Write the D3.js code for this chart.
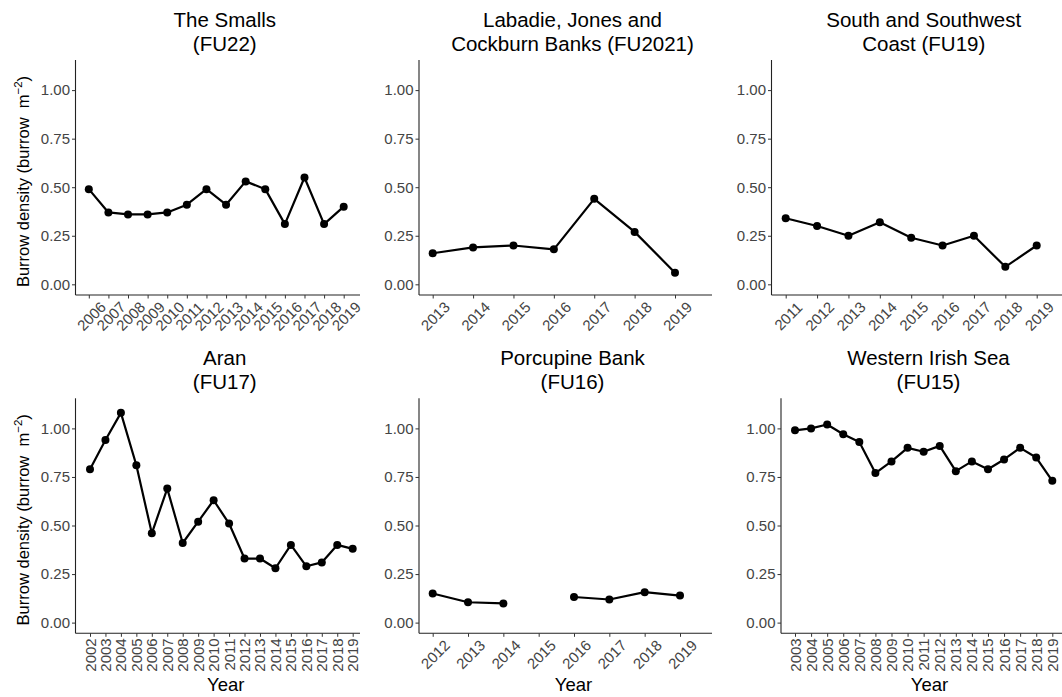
<!DOCTYPE html>
<html>
<head>
<meta charset="utf-8">
<script src="https://cdn.jsdelivr.net/npm/d3@7"></script>
<style>
  body { margin: 0; background: #fff; }
  svg text { font-family: "Liberation Sans", Arial, sans-serif; }
</style>
</head>
<body>
<svg id="chart" width="1062" height="697"></svg>
<script>
// burrow density per functional unit
const yearsFU22 = [2006, 2007, 2008, 2009, 2010, 2011, 2012, 2013, 2014, 2015, 2016, 2017, 2018, 2019];
const densityFU22 = [0.49, 0.37, 0.36, 0.36, 0.37, 0.41, 0.49, 0.41, 0.53, 0.49, 0.31, 0.55, 0.31, 0.40];

const yearsFU2021 = [2013, 2014, 2015, 2016, 2017, 2018, 2019];
const densityFU2021 = [0.16, 0.19, 0.20, 0.18, 0.44, 0.27, 0.06];

const yearsFU19 = [2011, 2012, 2013, 2014, 2015, 2016, 2017, 2018, 2019];
const densityFU19 = [0.34, 0.30, 0.25, 0.32, 0.24, 0.20, 0.25, 0.09, 0.20];

const yearsFU17 = [2002, 2003, 2004, 2005, 2006, 2007, 2008, 2009, 2010, 2011, 2012, 2013, 2014, 2015, 2016, 2017, 2018, 2019];
const densityFU17 = [0.79, 0.94, 1.08, 0.81, 0.46, 0.69, 0.41, 0.52, 0.63, 0.51, 0.33, 0.33, 0.28, 0.40, 0.29, 0.31, 0.40, 0.38];

const yearsFU16 = [2012, 2013, 2014, 2015, 2016, 2017, 2018, 2019];
const densityFU16 = [0.15, 0.105, 0.099, null, 0.132, 0.119, 0.157, 0.139];

const yearsFU15 = [2003, 2004, 2005, 2006, 2007, 2008, 2009, 2010, 2011, 2012, 2013, 2014, 2015, 2016, 2017, 2018, 2019];
const densityFU15 = [0.99, 1.00, 1.02, 0.97, 0.93, 0.77, 0.83, 0.90, 0.88, 0.91, 0.78, 0.83, 0.79, 0.84, 0.90, 0.85, 0.73];

const panelTitles = [
  ["The Smalls", "(FU22)"],
  ["Labadie, Jones and", "Cockburn Banks (FU2021)"],
  ["South and Southwest", "Coast (FU19)"],
  ["Aran", "(FU17)"],
  ["Porcupine Bank", "(FU16)"],
  ["Western Irish Sea", "(FU15)"]
];
const panelYears = [yearsFU22, yearsFU2021, yearsFU19, yearsFU17, yearsFU16, yearsFU15];
const panelValues = [densityFU22, densityFU2021, densityFU19, densityFU17, densityFU16, densityFU15];
const yTicks = [0, 0.25, 0.5, 0.75, 1.0];

// panel boxes (pixels)
const layout = [
  { left: 75.5, right: 360, top: 60, bottom: 295, tick0: 88.8, tick1: 343.7, angle: -45, yTitle: true, xTitle: false },
  { left: 419, right: 712, top: 60, bottom: 295, tick0: 432.7, tick1: 675, angle: -45, yTitle: false, xTitle: false },
  { left: 771.5, right: 1062, top: 60, bottom: 295, tick0: 785.7, tick1: 1036.7, angle: -45, yTitle: false, xTitle: false },
  { left: 75.5, right: 360, top: 398.3, bottom: 633.3, tick0: 90, tick1: 352.7, angle: -90, yTitle: true, xTitle: true },
  { left: 419, right: 712, top: 398.3, bottom: 633.3, tick0: 432.7, tick1: 680, angle: -45, yTitle: false, xTitle: true },
  { left: 781, right: 1062, top: 398.3, bottom: 633.3, tick0: 795, tick1: 1052.3, angle: -90, yTitle: false, xTitle: true }
];

const svg = d3.select("#chart");

layout.forEach((box, i) => {
  const years = panelYears[i];
  const values = panelValues[i];
  const pts = years.map((yr, j) => ({ year: yr, value: values[j] }));

  const x = d3.scalePoint().domain(years).range([box.tick0, box.tick1]);
  const y = d3.scaleLinear().domain([-0.055, 1.155]).range([box.bottom, box.top]);
  const g = svg.append("g");

  // axis lines
  g.append("line")
    .attr("x1", box.left).attr("x2", box.right)
    .attr("y1", box.bottom).attr("y2", box.bottom)
    .attr("stroke", "#222").attr("stroke-width", 1.1);
  g.append("line")
    .attr("x1", box.left).attr("x2", box.left)
    .attr("y1", box.top).attr("y2", box.bottom)
    .attr("stroke", "#222").attr("stroke-width", 1.1);

  // y axis
  const yAxis = g.append("g")
    .attr("transform", `translate(${box.left},0)`)
    .call(d3.axisLeft(y).tickValues(yTicks).tickFormat(d3.format(".2f")).tickSize(3.5).tickSizeOuter(0).tickPadding(2));
  yAxis.select(".domain").remove();
  yAxis.selectAll(".tick line").attr("stroke", "#333").attr("stroke-width", 1);
  yAxis.selectAll(".tick text")
    .attr("font-size", "15px").attr("fill", "#444");

  // x axis ticks
  const xAxis = g.append("g")
    .attr("transform", `translate(0,${box.bottom})`)
    .call(d3.axisBottom(x).tickSize(3.5).tickSizeOuter(0).tickFormat(""));
  xAxis.select(".domain").remove();
  xAxis.selectAll(".tick line").attr("stroke", "#333").attr("stroke-width", 1);
  xAxis.selectAll(".tick text").remove();

  // x tick labels
  years.forEach(yr => {
    const t = g.append("text")
      .attr("font-size", "15px")
      .attr("fill", "#444")
      .attr("dominant-baseline", "central")
      .text(yr);
    if (box.angle === -90) {
      t.attr("text-anchor", "end")
        .attr("transform", `translate(${x(yr)},${box.bottom + 5}) rotate(-90)`);
    } else {
      t.attr("text-anchor", "middle")
        .attr("transform", `translate(${x(yr) + 2.5},${box.bottom + 21}) rotate(-45)`);
    }
  });

  // line and points
  const line = d3.line()
    .defined(d => d.value !== null)
    .x(d => x(d.year))
    .y(d => y(d.value));
  g.append("path")
    .datum(pts)
    .attr("d", line)
    .attr("fill", "none")
    .attr("stroke", "#000")
    .attr("stroke-width", 2.2)
    .attr("stroke-linejoin", "round");
  g.selectAll("circle")
    .data(pts.filter(d => d.value !== null))
    .join("circle")
    .attr("cx", d => x(d.year))
    .attr("cy", d => y(d.value))
    .attr("r", 4)
    .attr("fill", "#000");

  // title
  const cx = (box.left + box.right) / 2 + 7;
  panelTitles[i].forEach((ln, k) => {
    g.append("text")
      .attr("x", cx)
      .attr("y", box.top - 33 + k * 23.5)
      .attr("text-anchor", "middle")
      .attr("font-size", "20.5px")
      .attr("fill", "#000")
      .text(ln);
  });

  // axis titles
  if (box.yTitle) {
    const yt = g.append("text")
      .attr("transform", `translate(29,${(box.top + box.bottom) / 2 + 4}) rotate(-90)`)
      .attr("text-anchor", "middle")
      .attr("font-size", "16.5px")
      .attr("fill", "#000");
    yt.append("tspan").text("Burrow density (burrow\u00a0 m");
    yt.append("tspan").attr("font-size", "11.5px").attr("dy", "-7").text("\u22122");
    yt.append("tspan").attr("dy", "7").text(")");
  }
  if (box.xTitle) {
    g.append("text")
      .attr("x", (box.left + box.right) / 2 + 8)
      .attr("y", 691)
      .attr("text-anchor", "middle")
      .attr("font-size", "18.5px")
      .attr("fill", "#000")
      .text("Year");
  }
});
</script>
</body>
</html>
